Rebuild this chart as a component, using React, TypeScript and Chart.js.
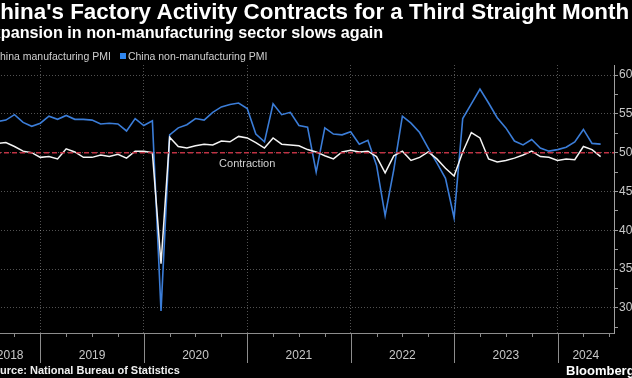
import React, { useEffect, useRef } from "react";
import { Chart, registerables } from "chart.js";

Chart.register(...registerables);

// ---- Data (monthly, plotted at month end) ----
const months = [
  "2018-05", "2018-06", "2018-07", "2018-08", "2018-09", "2018-10", "2018-11", "2018-12",
  "2019-01", "2019-02", "2019-03", "2019-04", "2019-05", "2019-06", "2019-07", "2019-08", "2019-09", "2019-10", "2019-11", "2019-12",
  "2020-01", "2020-02", "2020-03", "2020-04", "2020-05", "2020-06", "2020-07", "2020-08", "2020-09", "2020-10", "2020-11", "2020-12",
  "2021-01", "2021-02", "2021-03", "2021-04", "2021-05", "2021-06", "2021-07", "2021-08", "2021-09", "2021-10", "2021-11", "2021-12",
  "2022-01", "2022-02", "2022-03", "2022-04", "2022-05", "2022-06", "2022-07", "2022-08", "2022-09", "2022-10", "2022-11", "2022-12",
  "2023-01", "2023-02", "2023-03", "2023-04", "2023-05", "2023-06", "2023-07", "2023-08", "2023-09", "2023-10", "2023-11", "2023-12",
  "2024-01", "2024-02", "2024-03", "2024-04", "2024-05",
];

const manufacturingPMI = [
  51.9, 51.5, 51.2, 51.3, 50.8, 50.2, 50.0, 49.4,
  49.5, 49.2, 50.5, 50.1, 49.4, 49.4, 49.7, 49.5, 49.8, 49.3, 50.2, 50.2,
  50.0, 35.7, 52.0, 50.8, 50.6, 50.9, 51.1, 51.0, 51.5, 51.4, 52.1, 51.9,
  51.3, 50.6, 51.9, 51.1, 51.0, 50.9, 50.4, 50.1, 49.6, 49.2, 50.1, 50.3,
  50.1, 50.2, 49.5, 47.4, 49.6, 50.2, 49.0, 49.4, 50.1, 49.2, 48.0, 47.0,
  50.1, 52.6, 51.9, 49.2, 48.8, 49.0, 49.3, 49.7, 50.2, 49.5, 49.4, 49.0,
  49.2, 49.1, 50.8, 50.4, 49.5,
];

const nonManufacturingPMI = [
  54.9, 55.0, 54.0, 54.2, 54.9, 53.9, 53.4, 53.8,
  54.7, 54.3, 54.8, 54.3, 54.3, 54.2, 53.7, 53.8, 53.7, 52.8, 54.4, 53.5,
  54.1, 29.6, 52.3, 53.2, 53.6, 54.4, 54.2, 55.2, 55.9, 56.2, 56.4, 55.7,
  52.4, 51.4, 56.3, 54.9, 55.2, 53.5, 53.3, 47.5, 53.2, 52.4, 52.3, 52.7,
  51.1, 51.6, 48.4, 41.9, 47.8, 54.7, 53.8, 52.6, 50.6, 48.7, 46.7, 41.6,
  54.4, 56.3, 58.2, 56.4, 54.5, 53.2, 51.5, 51.0, 51.7, 50.6, 50.2, 50.4,
  50.7, 51.4, 53.0, 51.2, 51.1,
];

const yearLabels = ["2018", "2019", "2020", "2021", "2022", "2023", "2024"];
const yearBoundaries = [2019, 2020, 2021, 2022, 2023, 2024];
const yTickValues = [27.5, 30, 32.5, 35, 37.5, 40, 42.5, 45, 47.5, 50, 52.5, 55, 57.5, 60];
const contractionLevel = 50;
const contractionLabel = "Contraction";

const FONT = "'Liberation Sans', Arial, sans-serif";

const toX = (m: string) => {
  const [yr, mo] = m.split("-").map(Number);
  return yr + mo / 12;
};

export default function App() {
  const ref = useRef<HTMLCanvasElement>(null);

  useEffect(() => {
    const canvas = ref.current;
    if (!canvas) return;
    const xMin = toX(months[0]);
    const xMax = 2024 + 6.55 / 12;
    const yMin = 26.77;
    const yMax = 61.3;

    const decor = {
      id: "decor",
      afterDraw(chart: any) {
        const { ctx } = chart;
        const x = chart.scales.x;
        const y = chart.scales.y;
        const base = x.top;
        ctx.save();
        ctx.strokeStyle = "#8c8c8c";
        ctx.lineWidth = 1;
        for (let q = Math.ceil(xMin * 4) / 4; q <= xMax; q += 0.25) {
          const px = Math.round(x.getPixelForValue(q)) + 0.5;
          const isYear = Math.abs(q - Math.round(q)) < 1e-6;
          ctx.beginPath();
          ctx.moveTo(px, base);
          ctx.lineTo(px, base + (isYear ? 30 : 4));
          ctx.stroke();
        }
        ctx.fillStyle = "#c8c8c8";
        ctx.font = `12px ${FONT}`;
        ctx.textAlign = "center";
        ctx.textBaseline = "middle";
        yearLabels.forEach((label) => {
          const yr = Number(label);
          const a = Math.max(yr, xMin);
          const b = Math.min(yr + 1, xMax);
          if (b <= a) return;
          ctx.fillText(label, x.getPixelForValue((a + b) / 2), base + 23);
        });
        ctx.font = `11px ${FONT}`;
        ctx.fillStyle = "#d0d0d0";
        ctx.fillText(contractionLabel, x.getPixelForValue(2021), y.getPixelForValue(contractionLevel) + 11);
        ctx.restore();
      },
    };

    const chart = new Chart(canvas, {
      type: "line",
      data: {
        datasets: [
          {
            label: contractionLabel,
            data: [
              { x: xMin, y: contractionLevel },
              { x: xMax, y: contractionLevel },
            ],
            borderColor: "rgba(200,52,70,0.95)",
            borderWidth: 1.5,
            borderDash: [5, 3],
            pointRadius: 0,
          },
          {
            label: "China manufacturing PMI",
            data: months.map((m, i) => ({ x: toX(m), y: manufacturingPMI[i] })),
            borderColor: "#f4f4f4",
            borderWidth: 1.5,
            pointRadius: 0,
            tension: 0,
          },
          {
            label: "China non-manufacturing PMI",
            data: months.map((m, i) => ({ x: toX(m), y: nonManufacturingPMI[i] })),
            borderColor: "#3b7dd8",
            borderWidth: 1.6,
            pointRadius: 0,
            tension: 0,
          },
        ],
      },
      options: {
        animation: false,
        responsive: false,
        maintainAspectRatio: false,
        layout: { padding: { left: 0, right: 0, top: 65, bottom: 0 } },
        plugins: { legend: { display: false }, tooltip: { enabled: false } },
        scales: {
          x: {
            type: "linear",
            position: "bottom",
            min: xMin,
            max: xMax,
            afterBuildTicks: (s: any) => {
              s.ticks = yearBoundaries.map((v) => ({ value: v }));
            },
            afterFit: (s: any) => {
              s.height = 45;
            },
            ticks: { display: false },
            grid: { color: "rgba(255,255,255,0.32)", drawTicks: false, lineWidth: 1 },
            border: { display: true, color: "#8c8c8c", width: 1, dash: [1, 2] },
          },
          y: {
            type: "linear",
            position: "right",
            min: yMin,
            max: yMax,
            afterBuildTicks: (s: any) => {
              s.ticks = yTickValues.map((v) => ({ value: v }));
            },
            afterFit: (s: any) => {
              s.width = 18;
            },
            ticks: {
              color: "#c8c8c8",
              font: { size: 12, family: FONT },
              padding: 1,
              callback: (v: any) => (Number(v) % 5 === 0 ? String(v) : ""),
            },
            grid: {
              color: (c: any) =>
                c.tick && c.tick.value % 5 === 0 ? "rgba(255,255,255,0.32)" : "rgba(0,0,0,0)",
              tickColor: "#9a9a9a",
              tickLength: 4,
              drawTicks: true,
            },
            border: { display: true, color: "#a0a0a0", width: 1, dash: [1, 2] },
          },
        },
      },
      plugins: [decor],
    } as any);

    return () => chart.destroy();
  }, []);

  const square = (color: string) => (
    <span style={{ display: "inline-block", width: 6, height: 6, background: color, marginRight: 2 }} />
  );

  return (
    <div
      style={{
        position: "fixed",
        left: 0,
        top: 0,
        width: 632,
        height: 378,
        background: "#000",
        overflow: "hidden",
        fontFamily: FONT,
      }}
    >
      <canvas
        ref={ref}
        width={652}
        height={378}
        style={{ position: "absolute", left: -20, top: 0, width: 652, height: 378 }}
      />
      <div
        style={{
          position: "absolute", left: -16, top: 1, fontSize: 22.4, lineHeight: "22px",
          fontWeight: 700, color: "#fff", whiteSpace: "nowrap",
        }}
      >
        China's Factory Activity Contracts for a Third Straight Month
      </div>
      <div
        style={{
          position: "absolute", left: -19, top: 24, fontSize: 16.2, lineHeight: "16px",
          fontWeight: 700, color: "#fff", whiteSpace: "nowrap",
        }}
      >
        Expansion in non-manufacturing sector slows again
      </div>
      <div
        style={{
          position: "absolute", left: -15.6, top: 50, fontSize: 10.5, lineHeight: "12px",
          color: "#cfcfcf", whiteSpace: "nowrap", display: "flex", alignItems: "center",
        }}
      >
        {square("#ffffff")}
        <span>China manufacturing PMI</span>
        <span style={{ display: "inline-block", width: 9 }} />
        {square("#2f86ef")}
        <span>China non-manufacturing PMI</span>
      </div>
      <div
        style={{
          position: "absolute", left: -14, top: 365, fontSize: 11, lineHeight: "11px",
          fontWeight: 700, color: "#eee", whiteSpace: "nowrap",
        }}
      >
        Source: National Bureau of Statistics
      </div>
      <div
        style={{
          position: "absolute", left: 566, top: 364, fontSize: 13, lineHeight: "13px",
          fontWeight: 700, color: "#fff", whiteSpace: "nowrap",
        }}
      >
        Bloomberg
      </div>
    </div>
  );
}
